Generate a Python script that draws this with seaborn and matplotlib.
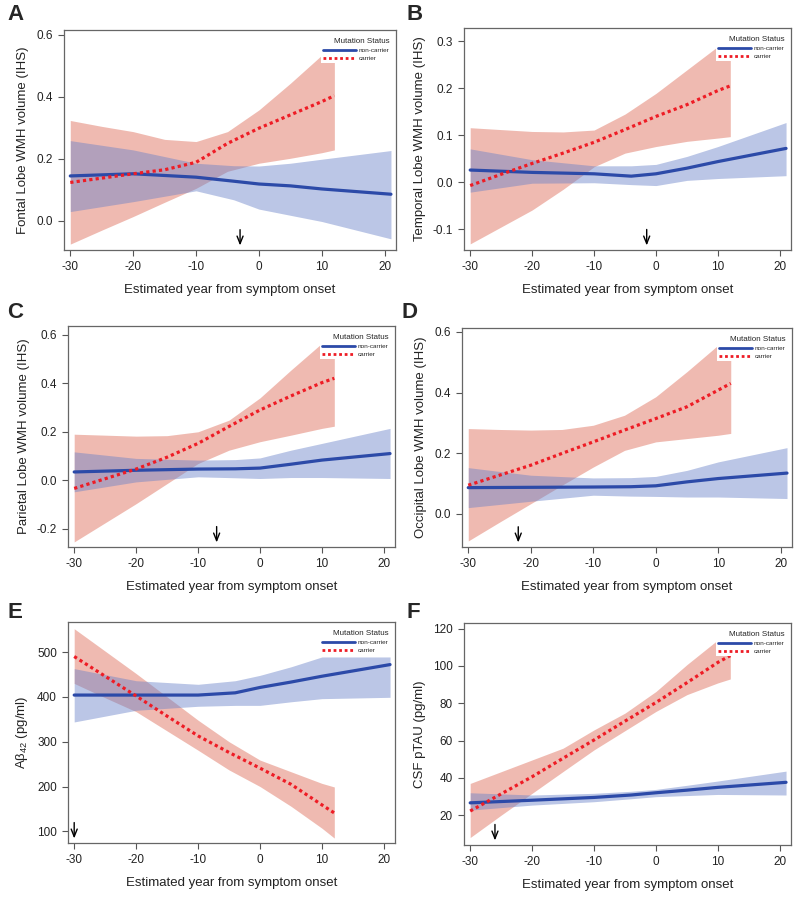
import numpy as np
import pandas as pd
import matplotlib
matplotlib.use("Agg")
import matplotlib.pyplot as plt
from matplotlib.lines import Line2D
import seaborn as sns

# x grids (estimated years from symptom onset)
nc_x = [-30, -20, -10, -4, 0, 5, 10, 21]
c_x = [-30, -25, -20, -15, -10, -5, 0, 5, 10, 12]

# A - frontal
a_nc = [0.145, 0.152, 0.141, 0.128, 0.119, 0.113, 0.103, 0.086]
a_nc_hi = [0.259, 0.229, 0.186, 0.178, 0.177, 0.186, 0.199, 0.227]
a_nc_lo = [0.030, 0.062, 0.097, 0.068, 0.038, 0.018, -0.002, -0.058]
a_c = [0.124, 0.138, 0.152, 0.165, 0.189, 0.250, 0.299, 0.342, 0.385, 0.404]
a_c_hi = [0.324, 0.305, 0.288, 0.263, 0.256, 0.288, 0.358, 0.444, 0.535, 0.560]
a_c_lo = [-0.075, -0.030, 0.014, 0.060, 0.105, 0.160, 0.186, 0.202, 0.220, 0.229]

# B - temporal
b_nc = [0.026, 0.021, 0.018, 0.013, 0.018, 0.030, 0.044, 0.072]
b_nc_hi = [0.071, 0.048, 0.035, 0.035, 0.038, 0.055, 0.076, 0.127]
b_nc_lo = [-0.021, -0.002, -0.001, -0.005, -0.007, 0.004, 0.008, 0.014]
b_c = [-0.007, 0.017, 0.040, 0.062, 0.085, 0.112, 0.140, 0.165, 0.195, 0.205]
b_c_hi = [0.116, 0.112, 0.108, 0.107, 0.111, 0.145, 0.189, 0.239, 0.289, 0.290]
b_c_lo = [-0.131, -0.095, -0.059, -0.015, 0.033, 0.062, 0.076, 0.087, 0.094, 0.097]

# C - parietal
c_nc = [0.034, 0.041, 0.046, 0.047, 0.050, 0.066, 0.083, 0.110]
c_nc_hi = [0.117, 0.090, 0.083, 0.085, 0.092, 0.124, 0.152, 0.214]
c_nc_lo = [-0.048, -0.007, 0.014, 0.010, 0.007, 0.011, 0.011, 0.007]
c_c = [-0.034, 0.006, 0.046, 0.095, 0.152, 0.222, 0.290, 0.348, 0.403, 0.421]
c_c_hi = [0.190, 0.186, 0.182, 0.184, 0.200, 0.248, 0.340, 0.455, 0.566, 0.570]
c_c_lo = [-0.255, -0.176, -0.097, -0.014, 0.069, 0.124, 0.159, 0.186, 0.214, 0.223]

# D - occipital
d_nc = [0.086, 0.087, 0.088, 0.089, 0.092, 0.105, 0.116, 0.134]
d_nc_hi = [0.152, 0.127, 0.118, 0.119, 0.123, 0.143, 0.171, 0.218]
d_nc_lo = [0.020, 0.041, 0.061, 0.058, 0.057, 0.055, 0.055, 0.050]
d_c = [0.094, 0.127, 0.160, 0.199, 0.237, 0.276, 0.314, 0.353, 0.408, 0.430]
d_c_hi = [0.281, 0.278, 0.276, 0.278, 0.292, 0.325, 0.386, 0.469, 0.557, 0.560]
d_c_lo = [-0.090, -0.028, 0.033, 0.094, 0.154, 0.209, 0.237, 0.248, 0.259, 0.265]

# E - Abeta42
e_nc = [404, 404, 404, 409, 421, 433, 446, 472]
e_nc_hi = [463, 436, 428, 436, 448, 467, 489, 489]
e_nc_lo = [344, 370, 379, 381, 381, 389, 396, 399]
e_c = [490, 446, 402, 357, 313, 276, 241, 205, 159, 141]
e_c_hi = [552, 502, 452, 400, 348, 300, 259, 233, 207, 199]
e_c_lo = [430, 398, 367, 324, 281, 237, 200, 156, 107, 85]

# F - pTAU
f_nc = [26.6, 28.0, 29.5, 30.8, 32.0, 33.4, 34.9, 37.6]
f_nc_hi = [32.0, 30.8, 31.7, 32.8, 33.8, 36.0, 38.3, 43.6]
f_nc_lo = [22.7, 25.4, 27.2, 28.8, 29.9, 30.5, 31.1, 30.8]
f_c = [22.2, 31.4, 40.6, 50.5, 60.3, 70.4, 80.4, 91.0, 101.9, 105.5]
f_c_hi = [37.0, 43.3, 49.6, 55.9, 65.7, 74.7, 86.3, 100.7, 114.0, 114.0]
f_c_lo = [8.0, 20.0, 31.7, 43.4, 55.0, 65.3, 75.6, 84.6, 90.9, 93.0]

letters = ["A", "B", "C", "D", "E", "F"]
ylabels = ["Fontal Lobe WMH volume (IHS)", "Temporal Lobe WMH volume (IHS)",
           "Parietal Lobe WMH volume (IHS)", "Occipital Lobe WMH volume (IHS)",
           "A\u03b2$_{42}$ (pg/ml)", "CSF pTAU (pg/ml)"]
arrows = [-3, -1.5, -7, -22, -30, -26]

sns.set_theme(style="ticks")
plt.rcParams['font.family'] = ['Liberation Sans', 'DejaVu Sans']
plt.rcParams['mathtext.fontset'] = 'custom'
plt.rcParams['mathtext.rm'] = 'Liberation Sans'
plt.rcParams['axes.unicode_minus'] = False

blue_line = '#2c4aa8'
red_line = '#ee1c25'
blue_fill = '#6881c8'
red_fill = '#da5c46'

panels = [
    (a_nc, a_nc_lo, a_nc_hi, a_c, a_c_lo, a_c_hi, (-0.094, 0.616), [0, 0.2, 0.4, 0.6], "%.1f"),
    (b_nc, b_nc_lo, b_nc_hi, b_c, b_c_lo, b_c_hi, (-0.144, 0.328), [-0.1, 0, 0.1, 0.2, 0.3], "%.1f"),
    (c_nc, c_nc_lo, c_nc_hi, c_c, c_c_lo, c_c_hi, (-0.276, 0.637), [-0.2, 0, 0.2, 0.4, 0.6], "%.1f"),
    (d_nc, d_nc_lo, d_nc_hi, d_c, d_c_lo, d_c_hi, (-0.11, 0.613), [0, 0.2, 0.4, 0.6], "%.1f"),
    (e_nc, e_nc_lo, e_nc_hi, e_c, e_c_lo, e_c_hi, (74, 567), [100, 200, 300, 400, 500], "%d"),
    (f_nc, f_nc_lo, f_nc_hi, f_c, f_c_lo, f_c_hi, (4, 123), [20, 40, 60, 80, 100, 120], "%d"),
]

# axes boxes in pixels: left, top, right, bottom
boxes = [(64, 30, 396, 250), (464, 28, 791, 250),
         (68, 326, 395, 547), (462, 328, 792, 547),
         (68, 622, 395, 843), (464, 623, 791, 845)]
letter_pos = [(15, 15), (415, 15), (15, 312), (410, 313), (15, 613), (413, 613)]

W, H = 800, 898
fig = plt.figure(figsize=(W / 100, H / 100), dpi=100)

for i, p in enumerate(panels):
    nc, nc_lo, nc_hi, cc, cc_lo, cc_hi, ylim, yticks, fmt = p
    l, t, r, b = boxes[i]
    ax = fig.add_axes([l / W, 1 - b / H, (r - l) / W, (b - t) / H])

    df = pd.concat([
        pd.DataFrame({'year': nc_x, 'value': nc, 'status': 'non-carrier'}),
        pd.DataFrame({'year': c_x, 'value': cc, 'status': 'carrier'}),
    ])
    ax.fill_between(c_x, cc_lo, cc_hi, color=red_fill, alpha=0.42, linewidth=0)
    ax.fill_between(nc_x, nc_lo, nc_hi, color=blue_fill, alpha=0.45, linewidth=0)
    sns.lineplot(data=df, x='year', y='value', hue='status', style='status',
                 palette={'non-carrier': blue_line, 'carrier': red_line},
                 dashes={'non-carrier': '', 'carrier': (1, 1)},
                 estimator=None, errorbar=None, linewidth=2.3, legend=False, ax=ax)

    ax.set_xlim(-31, 21.8)
    ax.set_ylim(*ylim)
    ax.set_xticks([-30, -20, -10, 0, 10, 20])
    ax.set_yticks(yticks)
    ax.set_yticklabels([fmt % v for v in yticks])
    ax.tick_params(labelsize=8.5, length=4, width=0.8, color='#555555', labelcolor='#222222', pad=4)
    for s in ax.spines.values():
        s.set_visible(True)
        s.set_color('#666666')
        s.set_linewidth(0.9)
    ax.set_xlabel("Estimated year from symptom onset", fontsize=9.5, labelpad=8, color='#222222')
    ax.set_ylabel(ylabels[i], fontsize=9.5, labelpad=5, color='#222222')

    ax.annotate('', xy=(arrows[i], 0.008), xytext=(arrows[i], 0.105),
                xycoords=('data', 'axes fraction'), textcoords=('data', 'axes fraction'),
                arrowprops=dict(arrowstyle='->,head_length=0.45,head_width=0.18',
                                color='black', lw=1.0))

    handles = [Line2D([], [], color=blue_line, lw=2.0),
               Line2D([], [], color=red_line, lw=2.0, linestyle=(0, (1, 1)))]
    leg = ax.legend(handles, ['non-carrier', 'carrier'], title='Mutation Status',
                    loc='upper right', bbox_to_anchor=(0.995, 0.985), fontsize=4.6,
                    title_fontsize=5.8, handlelength=5.2, handletextpad=0.4,
                    labelspacing=0.35, borderpad=0.3, frameon=True, framealpha=1,
                    facecolor='white', edgecolor='none', fancybox=False)
    leg._legend_box.align = 'right'

    fig.text(letter_pos[i][0] / W, 1 - letter_pos[i][1] / H, letters[i],
             fontsize=16, fontweight='bold', ha='center', va='center')

fig.savefig('out.png', dpi=100)
